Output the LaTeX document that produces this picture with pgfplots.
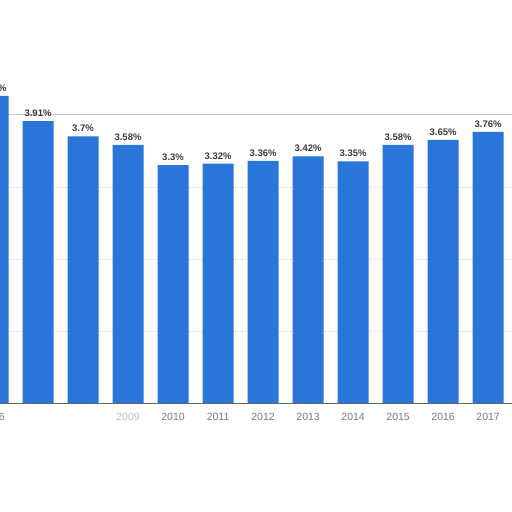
\documentclass[border=0pt]{standalone}
\usepackage{pgfplots}
\pgfplotsset{compat=1.18}
\usepackage{fontspec}
\setmainfont{Liberation Sans}
\definecolor{barblue}{RGB}{41,117,217}
\definecolor{lbl}{RGB}{60,60,60}
\definecolor{tickgray}{RGB}{120,120,120}
\begin{document}
\begin{tikzpicture}[x=1pt,y=1pt]
\path[use as bounding box, clip] (0,0) rectangle (512,512);
\fill[white] (0,0) rectangle (512,512);
\begin{axis}[
  at={(-25pt,109pt)}, anchor=south west,
  scale only axis, width=537pt, height=403pt,
  xmin=2005.6, xmax=2017.53, ymin=0, ymax=5.59,
  axis line style={draw=none},
  axis x line*=bottom,
  ytick={1,2,3}, yticklabels={},
  ymajorgrids, grid style={densely dotted, draw=black!12},
  major tick length=0pt,
  xtick={2006,2007,2008,2009,2010,2011,2012,2013,2014,2015,2016,2017},
  xticklabels={2006,,,{\color{black!25}2009},2010,2011,2012,2013,2014,2015,2016,2017},
  xticklabel style={font=\fontsize{10.5}{12}\selectfont, text=tickgray, yshift=-7pt},
  /pgf/number format/assume math mode=true,
  clip=false,
]
\draw[black!22, line width=1.2pt] (axis cs:2006.3,4) -- (axis cs:2017.53,4);
\addplot[ybar, bar width=31pt, fill=barblue, draw=none,
  point meta=explicit symbolic,
  nodes near coords,
  nodes near coords style={font=\bfseries\fontsize{9.5}{11}\selectfont, text=lbl, yshift=1pt},
] coordinates {
(2006,4.26) [4.26\%]
(2007,3.91) [3.91\%]
(2008,3.70) [3.7\%]
(2009,3.58) [3.58\%]
(2010,3.30) [3.3\%]
(2011,3.32) [3.32\%]
(2012,3.36) [3.36\%]
(2013,3.42) [3.42\%]
(2014,3.35) [3.35\%]
(2015,3.58) [3.58\%]
(2016,3.65) [3.65\%]
(2017,3.76) [3.76\%]
};
\draw[black!60, line width=1pt] (axis cs:2005.6,0) -- (axis cs:2017.53,0);
\end{axis}
\end{tikzpicture}
\end{document}
